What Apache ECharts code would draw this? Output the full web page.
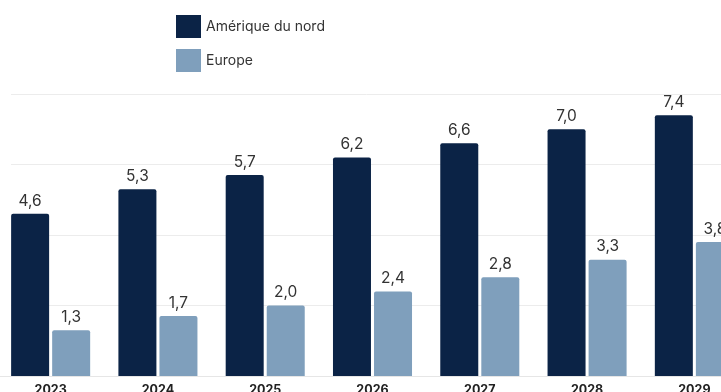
<!DOCTYPE html>
<html>
<head>
<meta charset="utf-8">
<script src="https://cdn.jsdelivr.net/npm/echarts@6/dist/echarts.min.js"></script>
<style>
  html, body { margin: 0; padding: 0; background: #ffffff; }
  #chart { width: 721px; height: 392px; }
</style>
</head>
<body>
<div id="chart"></div>
<script>
// Years on the horizontal axis
const years = ['2023', '2024', '2025', '2026', '2027', '2028', '2029'];
// Market values per region
const ameriqueDuNord = [4.6, 5.3, 5.7, 6.2, 6.6, 7.0, 7.4];
const europe = [1.3, 1.7, 2.0, 2.4, 2.8, 3.3, 3.8];
// Value scale
const yMin = 0;
const yMax = 8;
const yStep = 2;

const fontFamily = 'Inter, "Noto Sans", sans-serif';
const fmt = v => v.toFixed(1).replace('.', ',');

const chart = echarts.init(document.getElementById('chart'), null, { renderer: 'canvas' });

const valueLabel = {
  show: true,
  position: 'top',
  distance: 5,
  color: '#333333',
  fontFamily: fontFamily,
  fontSize: 15.5,
  formatter: p => fmt(p.value)
};

chart.setOption({
  animation: false,
  backgroundColor: '#ffffff',
  legend: {
    orient: 'vertical',
    left: 171,
    top: 10,
    itemWidth: 25,
    itemHeight: 23,
    itemGap: 11,
    icon: 'rect',
    textStyle: {
      color: '#333333',
      fontFamily: fontFamily,
      fontSize: 14,
      padding: [0, 0, 0, 0]
    },
    data: ['Amérique du nord', 'Europe']
  },
  grid: [
    // bars (the last band runs past the right edge)
    { left: -3, right: -27, top: 94, bottom: 16, containLabel: false, outerBoundsMode: 'none' },
    // horizontal guide lines, starting at the first bar
    { left: 11, right: -27, top: 94, bottom: 16, containLabel: false, outerBoundsMode: 'none' }
  ],
  xAxis: [
    {
      type: 'category',
      gridIndex: 0,
      data: years,
      axisLine: { show: true, lineStyle: { color: '#e6e6e6', width: 1 } },
      axisTick: { show: false },
      axisLabel: {
        color: '#222222',
        fontFamily: fontFamily,
        fontSize: 12.5,
        fontWeight: 'bold',
        margin: 8
      }
    },
    {
      type: 'category',
      gridIndex: 1,
      data: years,
      show: false
    }
  ],
  yAxis: [
    {
      type: 'value',
      gridIndex: 0,
      min: yMin,
      max: yMax,
      interval: yStep,
      axisLabel: { show: false },
      axisLine: { show: false },
      axisTick: { show: false },
      splitLine: { show: false }
    },
    {
      type: 'value',
      gridIndex: 1,
      min: yMin,
      max: yMax,
      interval: yStep,
      axisLabel: { show: false },
      axisLine: { show: false },
      axisTick: { show: false },
      splitLine: { show: true, lineStyle: { color: '#ececec', width: 1 } }
    }
  ],
  series: [
    {
      name: 'Amérique du nord',
      type: 'bar',
      xAxisIndex: 0,
      yAxisIndex: 0,
      data: ameriqueDuNord,
      barWidth: 38,
      barGap: '8%',
      itemStyle: { color: '#0b2346', borderRadius: [2, 2, 0, 0] },
      label: valueLabel
    },
    {
      name: 'Europe',
      type: 'bar',
      xAxisIndex: 0,
      yAxisIndex: 0,
      data: europe,
      barWidth: 38,
      barGap: '8%',
      itemStyle: { color: '#7f9fbc', borderRadius: [2, 2, 0, 0] },
      label: valueLabel
    }
  ]
});
</script>
</body>
</html>
